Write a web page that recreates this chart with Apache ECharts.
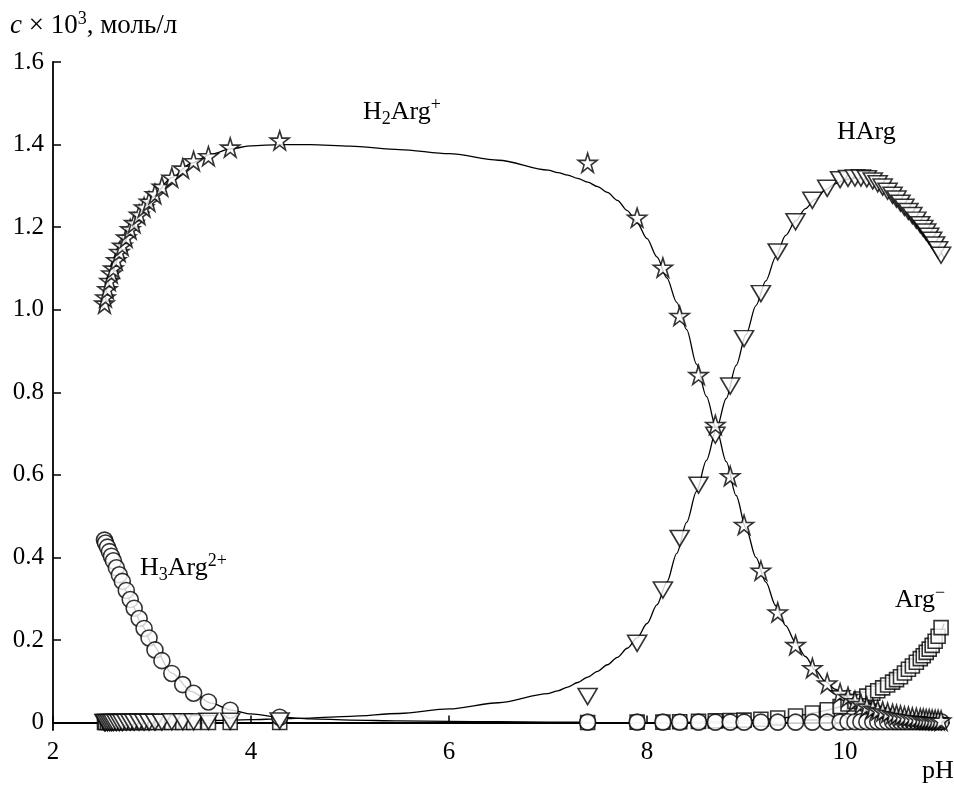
<!DOCTYPE html>
<html><head><meta charset="utf-8">
<script src="https://cdn.jsdelivr.net/npm/echarts@6/dist/echarts.min.js"></script>
<style>html,body{margin:0;padding:0;background:#fff}#c{width:954px;height:787px}</style>
</head><body><div id="c"></div>
<script>
// Experimental points (shared pH grid)
const pHPts = [2.52,2.53,2.55,2.57,2.59,2.61,2.64,2.67,2.70,2.74,2.78,2.82,2.87,2.92,2.97,3.03,3.10,3.20,3.31,3.42,3.57,3.79,4.29,
  7.40,7.90,8.16,8.33,8.52,8.69,8.84,8.98,9.15,9.32,9.50,9.67,9.82,9.95,
  10.03,10.10,10.16,10.22,10.28,10.33,10.38,10.43,10.48,10.52,10.56,10.60,10.64,10.68,10.72,10.76,10.79,10.82,10.85,10.88,10.91,10.94,10.97];
const h2argPts = [1.015,1.03,1.05,1.07,1.088,1.10,1.12,1.14,1.155,1.175,1.195,1.21,1.23,1.248,1.262,1.28,1.298,1.32,1.342,1.36,1.372,1.393,1.41,
  1.356,1.223,1.102,0.985,0.842,0.721,0.597,0.479,0.368,0.267,0.188,0.132,0.095,0.071,
  0.062,0.052,0.045,0.039,0.034,0.030,0.027,0.024,0.021,0.019,0.017,0.015,0.014,0.012,0.011,0.010,0.009,0.008,0.008,0.007,0.006,0.006,0.005];
const hargPts = [0,0,0,0,0,0,0,0,0,0.001,0.001,0.001,0.001,0.001,0.001,0.001,0.001,0.002,0.002,0.002,0.003,0.003,0.004,
  0.063,0.192,0.321,0.446,0.575,0.696,0.815,0.930,1.039,1.140,1.213,1.265,1.294,1.315,
  1.318,1.319,1.319,1.317,1.312,1.305,1.297,1.287,1.277,1.268,1.258,1.248,1.238,1.228,1.217,1.206,1.197,1.188,1.178,1.168,1.157,1.145,1.132];
const h3argPts = [0.442,0.435,0.425,0.414,0.403,0.392,0.375,0.358,0.342,0.32,0.298,0.277,0.252,0.228,0.205,0.176,0.150,0.119,0.092,0.071,0.050,0.030,0.013,
  0.001,0.001,0.001,0.001,0.001,0.001,0.001,0.001,0.001,0.001,0.001,0.001,0.001,0.001,
  0.002,0.002,0.002,0.002,0.002,0.002,0.002,0.002,0.002,0.002,0.002,0.002,0.002,0.002,0.002,0.002,0.002,0.002,0.002,0.002,0.002,0.002,0.002];
const argPts = [0,0,0,0,0,0,0,0,0,0,0,0,0,0,0,0,0,0,0,0,0,0,0,
  0,0.001,0.001,0.002,0.003,0.004,0.005,0.006,0.008,0.011,0.016,0.023,0.031,0.039,
  0.045,0.051,0.057,0.064,0.071,0.077,0.084,0.091,0.098,0.104,0.111,0.12,0.129,0.137,0.146,0.155,0.162,0.17,0.178,0.187,0.197,0.209,0.23];

// Fitted curves
const pHCurve = [2.5,2.6,2.7,2.8,2.9,3.0,3.2,3.4,3.6,3.8,4.0,4.3,4.6,5.0,5.5,6.0,6.5,
  7.0,7.1,7.2,7.3,7.4,7.5,7.6,7.7,7.8,7.9,8.0,8.1,8.2,8.3,8.4,8.5,8.6,8.7,8.8,8.9,
  9.0,9.1,9.2,9.3,9.4,9.5,9.6,9.7,9.8,9.9,10.0,10.1,10.2,10.3,10.4,10.5,10.6,10.7,10.8,10.9,11.0];
const h2argCurve = [1.005,1.09,1.155,1.20,1.24,1.272,1.32,1.355,1.377,1.39,1.397,1.40,1.40,1.396,1.388,1.378,1.362,
  1.338,1.332,1.326,1.318,1.309,1.298,1.284,1.265,1.24,1.21,1.172,1.128,1.077,1.018,0.952,0.868,0.79,0.712,0.632,0.55,
  0.47,0.40,0.34,0.283,0.235,0.194,0.16,0.127,0.10,0.081,0.066,0.053,0.043,0.035,0.028,0.022,0.018,0.014,0.011,0.009,0.007];
const hargCurve = [0,0.001,0.001,0.001,0.002,0.002,0.003,0.004,0.005,0.006,0.007,0.009,0.011,0.015,0.022,0.033,0.048,
  0.07,0.077,0.086,0.097,0.11,0.124,0.14,0.158,0.18,0.205,0.24,0.285,0.34,0.41,0.485,0.56,0.635,0.71,0.785,0.865,
  0.94,1.01,1.07,1.128,1.18,1.215,1.245,1.268,1.29,1.305,1.315,1.319,1.318,1.31,1.293,1.27,1.247,1.222,1.195,1.162,1.125];
const h3argCurve = [0.45,0.39,0.335,0.285,0.235,0.19,0.12,0.075,0.047,0.03,0.021,0.013,0.009,0.006,0.004,0.003,0.002,
  0.001,0.001,0.001,0.001,0.001,0,0,0,0,0,0,0,0,0,0,0,0,0,0,0,
  0,0,0,0,0,0,0,0,0,0,0,0,0,0,0,0,0,0,0,0,0];
const argCurve = [0,0,0,0,0,0,0,0,0,0,0,0,0,0,0,0,0,
  0,0,0,0,0,0,0,0,0,0,0,0,0,0,0,0.002,0.002,0.003,0.003,0.004,
  0.005,0.006,0.008,0.010,0.012,0.015,0.019,0.024,0.029,0.035,0.042,0.051,0.061,0.073,0.087,0.102,0.12,0.14,0.163,0.192,0.24];

// Axis ticks
const xTickValues = [2,4,6,8,10];
const xTickLabels = ['2','4','6','8','10'];
const yTickValues = [0,0.2,0.4,0.6,0.8,1.0,1.2,1.4,1.6];
const yTickLabels = ['0','0.2','0.4','0.6','0.8','1.0','1.2','1.4','1.6'];

const FONT = 'Liberation Serif';
const STAR = 'path://M50,2 L61,37 L98,37 L68,59 L79,95 L50,73 L21,95 L32,59 L2,37 L39,37 Z';
const zip = (xs, ys) => xs.map((x, i) => [x, ys[i]]);

const chart = echarts.init(document.getElementById('c'), null, {renderer: 'canvas'});
const lineS = (d) => ({type: 'line', data: zip(pHCurve, d), showSymbol: false, smooth: 0.3, smoothMonotone: 'x',
  lineStyle: {color: '#000', width: 1.3}, z: 1, silent: true});
const mk = {color: '#fff', borderColor: '#000', borderWidth: 1.6};
const axisFont = {color: '#000', fontFamily: FONT, fontSize: 25};

chart.setOption({
  animation: false,
  backgroundColor: '#fff',
  grid: {left: 53, right: 5, top: 62, bottom: 57, containLabel: false},
  xAxis: {type: 'value', min: 2, max: 11.05,
    axisLine: {lineStyle: {color: '#000', width: 1.8}},
    axisTick: {inside: true, length: 7, customValues: xTickValues, lineStyle: {color: '#000', width: 1.5}},
    axisLabel: Object.assign({customValues: xTickValues, margin: 10,
      formatter: v => xTickLabels[xTickValues.indexOf(v)] ?? String(v)}, axisFont),
    splitLine: {show: false}},
  yAxis: {type: 'value', min: -0.018, max: 1.6,
    axisLine: {lineStyle: {color: '#000', width: 1.8}},
    axisTick: {inside: true, length: 8, customValues: yTickValues, lineStyle: {color: '#000', width: 1.5}},
    axisLabel: Object.assign({customValues: yTickValues, margin: 9,
      formatter: v => { const i = yTickValues.findIndex(t => Math.abs(t - v) < 1e-9); return i >= 0 ? yTickLabels[i] : String(v); }}, axisFont),
    splitLine: {show: false}},
  series: [
    lineS(h2argCurve), lineS(hargCurve), lineS(h3argCurve), lineS(argCurve),
    {type: 'scatter', data: zip(pHPts, argPts), symbol: 'rect', symbolSize: 14, itemStyle: mk, z: 2},
    {type: 'scatter', data: zip(pHPts, h3argPts), symbol: 'circle', symbolSize: 16, itemStyle: mk, z: 3},
    {type: 'scatter', data: zip(pHPts, hargPts), symbol: 'triangle', symbolRotate: 180, symbolSize: [19, 16], itemStyle: mk, z: 4},
    {type: 'scatter', data: zip(pHPts, h2argPts), symbol: STAR, symbolSize: 19, itemStyle: mk, z: 5}
  ],
  graphic: (function () {
    const base = (x) => Object.assign({fontFamily: FONT, fontSize: 26, lineHeight: 32}, x || {});
    const rich = {
      n: base(),
      i: base({fontStyle: 'italic'}),
      t: base({fontSize: 27}),
      ti: base({fontSize: 27, fontStyle: 'italic'}),
      sub: {fontFamily: FONT, fontSize: 18, lineHeight: 18, verticalAlign: 'bottom'},
      sup: {fontFamily: FONT, fontSize: 18, lineHeight: 18, verticalAlign: 'top'}
    };
    const t = (left, top, text) => ({type: 'text', left: left, top: top, z: 10,
      style: {text: text, rich: rich, fill: '#000', fontFamily: FONT, fontSize: 26}});
    return [
      t(10, 10, '{ti|c}{t| × 10}{sup|3}{t|, моль/л}'),
      t(363, 96, '{n|H}{sub|2}{n|Arg}{sup|+}'),
      t(837, 119, '{n|HArg}'),
      t(140, 552, '{n|H}{sub|3}{n|Arg}{sup|2+}'),
      t(895, 584, '{n|Arg}{sup|−}'),
      t(922, 758, '{n|pH}')
    ];
  })()
});
</script></body></html>
